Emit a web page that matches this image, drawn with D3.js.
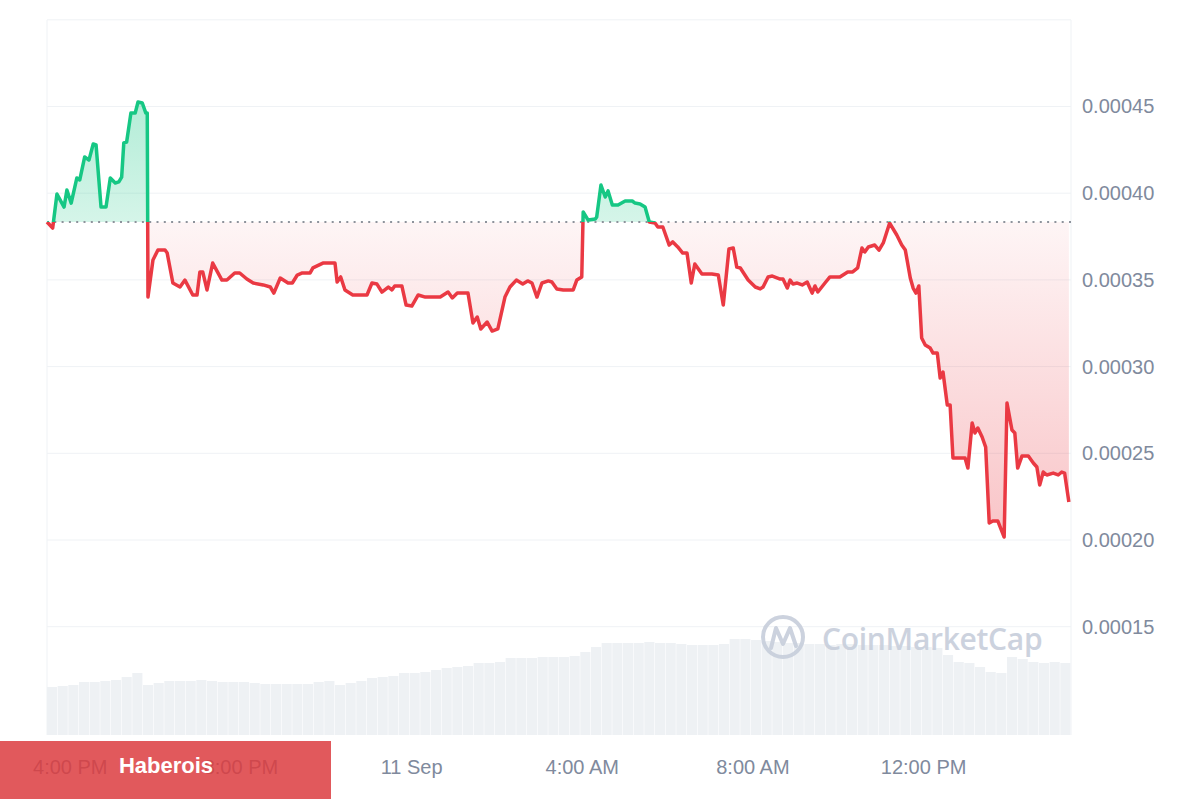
<!DOCTYPE html>
<html>
<head>
<meta charset="utf-8">
<script src="https://cdn.jsdelivr.net/npm/d3@7"></script>
<style>
  html, body { margin: 0; padding: 0; background: #ffffff; }
  svg { display: block; font-family: "Liberation Sans", Arial, sans-serif; }
</style>
</head>
<body>
<svg id="chart" width="1200" height="800"></svg>
<script>
// ---------------- DATA ----------------
// minutes elapsed since 10 Sep 15:28
const priceMinutes = [0,8,14,24,28,34,42,46,53,59,65,69,76,83,89,96,101,105,108,112,118,124,128,134,139,
  141,142,149,156,166,169,177,187,194,205,211,215,219,225,233,246,253,264,271,281,290,304,314,319,328,339,345,352,359,370,374,388,405,408,413,419,430,450,457,464,471,480,485,489,499,505,513,522,532,553,564,570,577,592,599,605,610,619,626,634,644,651,660,669,676,682,689,696,705,710,717,726,740,745,
  752,754,761,771,773,779,785,789,795,803,813,823,827,834,841,847,855,859,866,875,880,887,894,900,906,911,921,935,944,951,959,965,970,975,986,996,1003,1007,1014,1020,1031,1035,1041,1045,1049,1055,1062,1069,1076,1080,1084,1094,1101,1115,1126,1133,1140,1146,1150,1155,1164,1170,1176,1185,1195,1202,1207,1214,1218,1222,1226,1230,1235,1242,1246,1252,1256,1260,1266,1270,1274,1291,1295,1301,1305,1309,1315,1320,1325,1330,1337,1346,1350,1357,1361,1365,1371,1380,1387,1392,1396,1401,1406,1415,1422,1427,1431,1437];
// price in millionths of USD
const priceMicro = [383.4,379.9,399.5,392.0,401.8,394.3,408.8,407.6,420.9,419.1,428.4,427.8,392.0,392.0,408.8,405.9,406.5,409.3,429.0,429.5,446.2,446.2,452.6,452.0,446.2,
  446.2,340.1,361.5,367.2,367.2,365.5,348.2,345.9,349.9,341.3,341.3,354.6,354.6,344.2,359.7,349.9,349.9,354.0,354.0,350.5,348.2,347.1,345.9,342.4,351.1,348.2,348.2,352.8,354.0,354.0,356.9,359.7,359.7,348.8,351.7,344.2,341.3,341.3,348.2,347.6,343.0,345.9,344.2,346.5,346.5,335.5,334.9,341.3,340.1,340.1,343.0,339.6,342.4,342.4,325.1,328.6,321.7,325.7,320.5,321.7,340.1,345.9,349.9,347.6,349.4,348.2,340.1,348.2,349.4,348.8,344.8,344.2,344.2,349.9,
  351.7,389.2,384.5,385.1,386.3,404.7,397.8,401.3,393.2,393.2,395.5,395.5,394.3,393.8,392.0,383.4,382.8,380.5,380.5,370.1,371.9,369.0,365.5,365.5,348.2,359.2,353.4,353.4,352.8,335.5,367.8,368.4,357.4,356.9,349.9,345.9,344.8,345.9,351.7,352.2,350.5,350.5,345.3,349.9,347.6,348.2,347.1,348.8,342.4,346.5,343.0,348.2,351.7,351.7,354.6,354.6,356.9,368.4,366.1,369.0,370.1,367.2,371.3,382.8,375.9,370.1,367.2,351.1,345.3,342.4,346.5,316.5,312.5,310.7,307.8,307.8,293.4,296.9,277.9,277.9,247.3,247.3,241.5,267.5,261.7,264.6,259.4,253.6,209.8,211.0,211.0,201.7,279.0,263.4,261.7,241.5,248.4,248.4,244.4,242.1,231.7,239.2,237.5,238.6,237.5,239.2,238.6,221.9];
const openPriceMicro = 383.4;

// volume, one bar per 15 minutes (relative units)
const volumeValues = [48,49,50,53,53,54,55,58,62,50,52,54,54,54,55,54,53,53,53,52,51,51,51,51,51,53,54,50,52,54,
  57,58,59,62,62,63,65,67,68,69,72,72,73,77,77,77,78,78,78,79,83,88,92,92,92,92,93,92,92,91,90,90,90,91,96,96,95,94,93,
  92,92,91,91,90,91,91,90,90,90,89,89,88,88,87,80,73,72,68,63,62,78,76,73,72,73,72];

const yTickValues = [0.00015,0.00020,0.00025,0.00030,0.00035,0.00040,0.00045];
const yGridValues = [0.00015,0.00020,0.00025,0.00030,0.00035,0.00040,0.00045,0.00050];
const xTickMinutes = [32, 272, 512, 752, 992, 1232]; // 16:00, 20:00, 00:00, 04:00, 08:00, 12:00
const xTickLabels = ["4:00 PM","8:00 PM","11 Sep","4:00 AM","8:00 AM","12:00 PM"];
const bannerText = "Haberois";
const watermarkText = "CoinMarketCap";

// ---------------- LAYOUT ----------------
const svg = d3.select("#chart");
const plotLeft = 47, plotRight = 1071, plotTop = 20, plotBottom = 735;
const start = new Date(2023, 8, 10, 15, 28);
const end = new Date(start.getTime() + 24 * 3600 * 1000);
const atMin = m => new Date(start.getTime() + m * 60000);

const x = d3.scaleTime().domain([start, end]).range([plotLeft, plotRight]);
const y = d3.scaleLinear().domain([0.00020, 0.00045]).range([540, 106.5]);
const yVol = d3.scaleLinear().domain([0, 100]).range([plotBottom, plotBottom - 100]);

const pts = priceMinutes.map((m, i) => ({ t: atMin(m), p: priceMicro[i] * 1e-6 }));
const base = openPriceMicro * 1e-6;
const baseY = y(base);

const defs = svg.append("defs");
const gGreen = defs.append("linearGradient").attr("id", "gGreen").attr("gradientUnits", "userSpaceOnUse")
  .attr("x1", 0).attr("x2", 0).attr("y1", y(0.00045)).attr("y2", baseY);
gGreen.append("stop").attr("offset", 0).attr("stop-color", "#16c784").attr("stop-opacity", 0.32);
gGreen.append("stop").attr("offset", 1).attr("stop-color", "#16c784").attr("stop-opacity", 0.18);
const gRed = defs.append("linearGradient").attr("id", "gRed").attr("gradientUnits", "userSpaceOnUse")
  .attr("x1", 0).attr("x2", 0).attr("y1", baseY).attr("y2", y(0.0002));
gRed.append("stop").attr("offset", 0).attr("stop-color", "#ea3943").attr("stop-opacity", 0.05);
gRed.append("stop").attr("offset", 1).attr("stop-color", "#ea3943").attr("stop-opacity", 0.3);

defs.append("clipPath").attr("id", "clipAbove").append("rect")
  .attr("x", 0).attr("y", 0).attr("width", 1200).attr("height", baseY);
defs.append("clipPath").attr("id", "clipBelow").append("rect")
  .attr("x", 0).attr("y", baseY).attr("width", 1200).attr("height", 800 - baseY);

// grid
svg.append("g").selectAll("line").data(yGridValues).join("line")
  .attr("x1", plotLeft).attr("x2", plotRight).attr("y1", d => y(d)).attr("y2", d => y(d))
  .attr("stroke", "#eff2f5").attr("stroke-width", 1);
svg.append("g").selectAll("line").data([plotLeft, plotRight]).join("line")
  .attr("x1", d => d).attr("x2", d => d).attr("y1", plotTop).attr("y2", plotBottom)
  .attr("stroke", "#eff2f5").attr("stroke-width", 1);

// volume bars
const bw = (plotRight - plotLeft) / volumeValues.length;
svg.append("g").selectAll("rect").data(volumeValues).join("rect")
  .attr("x", (d, i) => x(atMin(i * 15)))
  .attr("width", bw - 0.6)
  .attr("y", d => yVol(d))
  .attr("height", d => plotBottom - yVol(d))
  .attr("fill", "#eef1f4");

// watermark
const wm = svg.append("g").attr("opacity", 0.9);
wm.append("circle").attr("cx", 783).attr("cy", 637).attr("r", 20)
  .attr("fill", "none").attr("stroke", "#c7cedb").attr("stroke-width", 4);
wm.append("path").attr("d", "M771,648 L776,628 L783,644 L790,628 L796,646")
  .attr("fill", "none").attr("stroke", "#c7cedb").attr("stroke-width", 4).attr("stroke-linejoin", "round").attr("stroke-linecap", "round");
wm.append("text").attr("x", 822).attr("y", 650).text(watermarkText)
  .attr("font-size", 30).attr("font-weight", 600).attr("fill", "#c7cedb")
  .attr("font-family", "'Open Sans', 'Noto Sans', sans-serif").attr("letter-spacing", -0.3);

// areas
const area = d3.area().x(d => x(d.t)).y0(baseY).y1(d => y(d.p));
svg.append("path").datum(pts).attr("d", area).attr("fill", "url(#gGreen)").attr("clip-path", "url(#clipAbove)");
svg.append("path").datum(pts).attr("d", area).attr("fill", "url(#gRed)").attr("clip-path", "url(#clipBelow)");

// baseline
svg.append("line").attr("x1", plotLeft).attr("x2", plotRight).attr("y1", baseY).attr("y2", baseY)
  .attr("stroke", "#8e939c").attr("stroke-width", 2).attr("stroke-dasharray", "2,5.3");

// lines
const line = d3.line().x(d => x(d.t)).y(d => y(d.p));
svg.append("path").datum(pts).attr("d", line).attr("fill", "none").attr("stroke", "#16c784")
  .attr("stroke-width", 3.5).attr("stroke-linejoin", "round").attr("clip-path", "url(#clipAbove)");
svg.append("path").datum(pts).attr("d", line).attr("fill", "none").attr("stroke", "#ea3943")
  .attr("stroke-width", 3.5).attr("stroke-linejoin", "round").attr("clip-path", "url(#clipBelow)");

// y axis
const yAxis = d3.axisRight(y).tickValues(yTickValues).tickFormat(d3.format(".5f")).tickSize(0).tickPadding(11);
const gy = svg.append("g").attr("transform", `translate(${plotRight},0)`).call(yAxis);
gy.select(".domain").remove();
gy.selectAll("text").attr("font-size", 20).attr("fill", "#808a9d").attr("font-family", "'Liberation Sans', Arial, sans-serif");

// x axis
const xTicks = xTickMinutes.map(atMin);
const xAxis = d3.axisBottom(x).tickValues(xTicks).tickFormat((d, i) => xTickLabels[i]).tickSize(0).tickPadding(25);
const gx = svg.append("g").attr("transform", `translate(0,${plotBottom})`).call(xAxis);
gx.select(".domain").remove();
gx.selectAll("text").attr("font-size", 20).attr("fill", "#808a9d").attr("font-family", "'Liberation Sans', Arial, sans-serif");

// banner
svg.append("rect").attr("x", 0).attr("y", 741).attr("width", 331).attr("height", 58)
  .attr("fill", "rgb(220,60,64)").attr("opacity", 0.85);
svg.append("text").attr("x", 166).attr("y", 767).attr("text-anchor", "middle").attr("dominant-baseline", "middle")
  .attr("font-size", 22).attr("font-weight", 700).attr("fill", "#ffffff")
  .attr("font-family", "'Liberation Sans', Arial, sans-serif").text(bannerText);
</script>
</body>
</html>
